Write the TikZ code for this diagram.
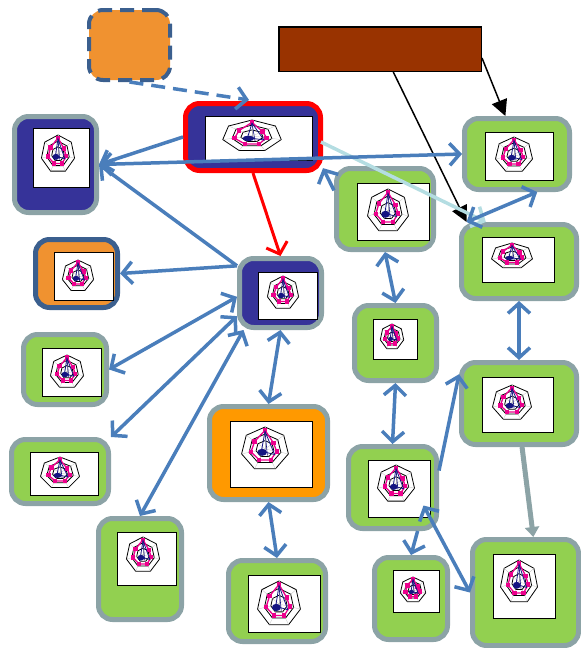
\documentclass[tikz,border=0pt]{standalone}
\usetikzlibrary{arrows.meta,calc}
\definecolor{boxgreen}{RGB}{146,208,80}
\definecolor{boxgray}{RGB}{140,163,166}
\definecolor{boxnavy}{RGB}{54,51,153}
\definecolor{boxorange}{RGB}{240,146,48}
\definecolor{hotorange}{RGB}{255,153,0}
\definecolor{edgeblue}{RGB}{74,126,187}
\definecolor{darkedge}{RGB}{59,95,142}
\definecolor{boxbrown}{RGB}{153,51,0}
\definecolor{paleline}{RGB}{180,221,226}
\definecolor{chartnavy}{RGB}{20,20,130}

\newcommand{\chartframe}[4]{\draw[fill=white,line width=1pt] (#1,#2) rectangle (#3,#4);}
\newcommand{\radar}[4]{%
  \begin{scope}[shift={(#1,#2)},x=#3pt,y=#4pt]
    \foreach \s in {1,0.68,0.38}
      \draw[line width=0.8pt] (90:\s) \foreach \k in {1,...,6}{ -- (90+\k*360/7:\s)} -- cycle;
    \foreach \k in {0,...,6} \draw[gray!60,line width=0.2pt] (0,0) -- (90+\k*360/7:1);
    \draw[magenta,line width=1.3pt] (90:0.85) -- (90+360/7:0.55) -- (90+2*360/7:0.6) -- (90+3*360/7:0.55)
      -- (90+4*360/7:0.55) -- (90+5*360/7:0.5) -- (90+6*360/7:0.45) -- cycle;
    \foreach \r [count=\k from 0] in {0.85,0.55,0.6,0.55,0.55,0.5,0.45}
      \fill[magenta] (90+\k*360/7:\r) ++(-2.2pt,-2.2pt) rectangle ++(4.4pt,4.4pt);
    \draw[chartnavy,line width=0.8pt] (90:0.8) -- (-0.15,-0.1) -- (0.4,-0.25) -- cycle;
    \draw[chartnavy,line width=0.6pt] (90:0.8) -- (0.1,-0.3);
    \fill[chartnavy] (-0.12,-0.15) ellipse (0.2 and 0.16);
  \end{scope}}

\begin{document}
\begin{tikzpicture}[x=1pt,y=-1pt,
  box/.style={draw=boxgray,line width=5pt,rounded corners=14pt,inner sep=0pt},
  greenbox/.style={box,fill=boxgreen},
  navybox/.style={box,fill=boxnavy},
  link/.style={edgeblue,line width=3.5pt,arrows={-Straight Barb[length=10pt,width=22pt]}},
  twoway/.style={link,arrows={Straight Barb[length=10pt,width=22pt]-Straight Barb[length=10pt,width=22pt]}},
  blackarrow/.style={line width=1.5pt,arrows={-Triangle[length=16pt,width=16pt]}}]
\useasboundingbox (0,0) rectangle (581,648);

\node[box,draw=darkedge,fill=boxorange,line width=4pt,dash pattern=on 14pt off 8pt,minimum width=81pt,minimum height=70pt] (plan) at (129.5,45) {};
\node[draw,line width=1.5pt,fill=boxbrown,minimum width=202.5pt,minimum height=44.5pt,inner sep=0pt] (top) at (380,49) {};
\node[navybox,draw=red,minimum width=135pt,minimum height=67pt] (hub) at (253,137) {};
\node[navybox,minimum width=82pt,minimum height=96pt] (l1) at (55.5,164.5) {};
\node[box,draw=darkedge,fill=boxorange,minimum width=82pt,minimum height=68pt] (l2) at (76.5,273.5) {};
\node[navybox,minimum width=82pt,minimum height=69pt] (c1) at (280.5,293) {};
\node[greenbox,minimum width=83pt,minimum height=70pt] (l3) at (65,369.5) {};
\node[greenbox,minimum width=97pt,minimum height=64pt] (l4) at (60,471.5) {};
\node[greenbox,minimum width=83pt,minimum height=101pt] (b1) at (140,569) {};
\node[box,fill=hotorange,minimum width=118pt,minimum height=93pt] (c2) at (268.5,453) {};
\node[greenbox,minimum width=97pt,minimum height=81pt] (b2) at (277,601) {};
\node[greenbox,minimum width=97pt,minimum height=81pt] (m1) at (385,209) {};
\node[greenbox,minimum width=105pt,minimum height=71pt] (r1) at (517,154) {};
\node[greenbox,minimum width=115pt,minimum height=74pt] (r2) at (519,261.5) {};
\node[greenbox,minimum width=82pt,minimum height=75pt] (m2) at (395.5,343) {};
\node[greenbox,minimum width=115pt,minimum height=82pt] (r3) at (519,403.5) {};
\node[greenbox,minimum width=88pt,minimum height=82pt] (m3) at (392.5,487.5) {};
\node[greenbox,minimum width=73pt,minimum height=82pt] (m4) at (411,598.5) {};
\node[greenbox,minimum width=106pt,minimum height=106pt] (r4) at (525.5,592.5) {};

\chartframe{205}{116}{312}{160} \radar{252}{136}{30}{16}
\chartframe{33}{128}{89}{187} \radar{58}{154}{17}{19}
\chartframe{54}{252}{113}{300} \radar{78}{276}{16}{16}
\chartframe{258}{272}{317}{319} \radar{283}{293}{16}{17}
\chartframe{42}{348}{101}{396} \radar{67}{372}{17}{17}
\chartframe{30}{452}{98}{495} \radar{60}{473}{20}{16}
\chartframe{117}{532}{176}{585} \radar{143}{555}{17}{18}
\chartframe{230}{421}{312}{487} \radar{265}{449}{24}{22}
\chartframe{248}{575}{320}{632} \radar{279}{604}{22}{23}
\chartframe{357}{183}{429}{240} \radar{388}{211}{21}{22}
\chartframe{485}{132}{553}{180} \radar{514}{155}{19}{18}
\chartframe{482}{237}{554}{282} \radar{512}{256}{21}{13}
\chartframe{373}{319}{417}{359} \radar{392}{337}{12}{13}
\chartframe{482}{377}{553}{432} \radar{512}{403}{20}{18}
\chartframe{368}{460}{430}{517} \radar{396}{484}{19}{19}
\chartframe{393}{570}{439}{612} \radar{413}{590}{13}{13}
\chartframe{493}{554}{555}{618} \radar{519}{582}{19}{22}

\draw[link,dash pattern=on 14pt off 8pt] (plan.south) -- ($(hub.north)+(-4,-1)$);
\draw[blackarrow] ($(top.east)+(0,9)$) -- (r1.107);
\draw[blackarrow] (top.-60) -- (r2.143);
\draw[link,red,line width=3pt] (hub.south) -- (c1.north);
\draw[link,paleline] ($(hub.east)+(-2,5)$) -- (r2.130);
\draw[link] (hub.west) -- (l1.east);
\draw[twoway] (l1.east) -- (r1.west);
\draw[link] (c1.148) -- (l1.east);
\draw[link] (c1.148) -- (l2.east);
\draw[twoway] (c1.185) -- (l3.east);
\draw[twoway] (c1.208) -- (l4.north east);
\draw[twoway] (c1.225) -- (b1.north);
\draw[twoway] (c1.south) -- (c2.north);
\draw[twoway] (c2.south) -- (b2.north);
\draw[link] (m1.160) -- (hub.336);
\draw[twoway] (r1.298) -- (r2.143);
\draw[twoway] (m1.south) -- (m2.north);
\draw[twoway] (r2.south) -- (r3.north);
\draw[twoway] (m2.south) -- (m3.north);
\draw[link] (m3.20) -- (r3.154);
\draw[link,boxgray,line width=5pt,arrows={-Triangle[length=10pt,width=14pt]}] (r3.274) -- (r4.82);
\draw[link] (m3.300) -- (m4.north);
\draw[twoway] (r4.west) -- ($(m3.center)+(31,18)$);
\end{tikzpicture}
\end{document}
